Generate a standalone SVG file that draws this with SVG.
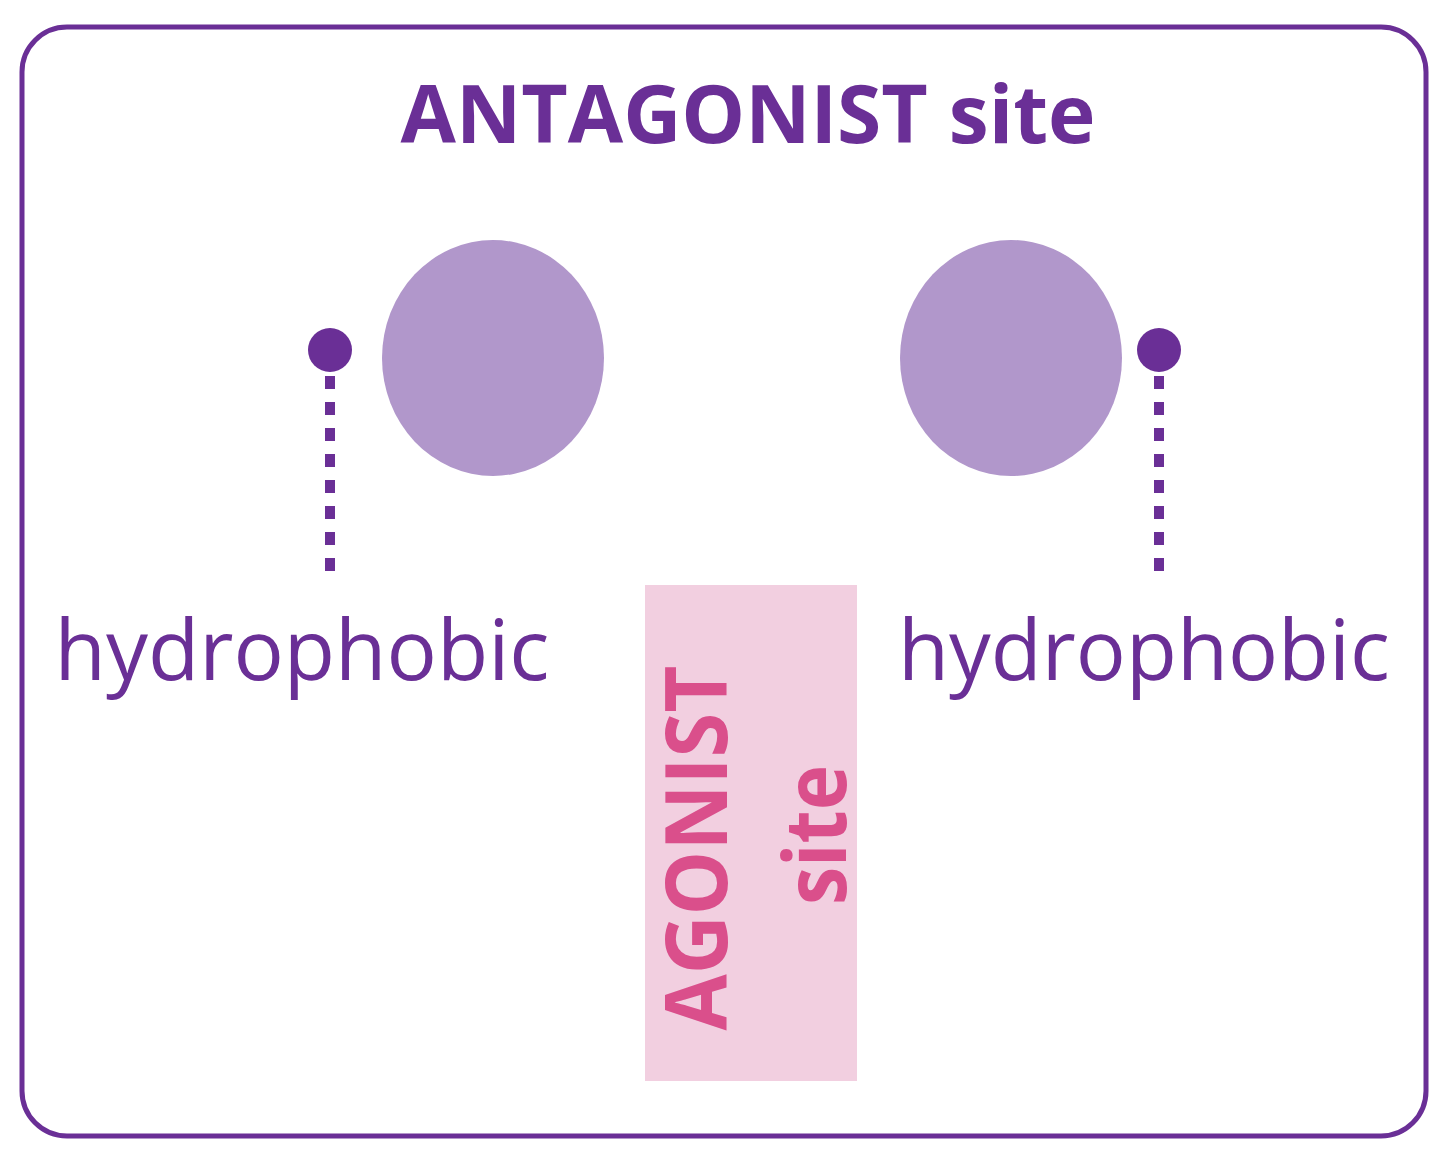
<svg xmlns="http://www.w3.org/2000/svg" width="1440" height="1152" viewBox="0 0 1440 1152">
<style>
.p{fill:#6a2f96;font-family:"Open Sans","Liberation Sans",sans-serif}
.k{fill:#da4f8b;font-family:"Open Sans","Liberation Sans",sans-serif;font-weight:bold;font-size:86px}
.c{fill:#b197cb}
.d{stroke:#6a2f96;stroke-width:10;stroke-dasharray:13 13}
</style>
<rect width="1440" height="1152" fill="#fff"/>
<g id="frame"><rect x="22" y="27" width="1404" height="1109" rx="45" fill="none" stroke="#6a2f96" stroke-width="5"/>
<text class="p" x="748" y="143" text-anchor="middle" font-size="80" font-weight="bold" textLength="695" lengthAdjust="spacingAndGlyphs">ANTAGONIST site</text></g>
<g id="left">
<ellipse class="c" cx="493" cy="358" rx="111" ry="118"/>
<circle cx="330" cy="350" r="22" fill="#6a2f96"/>
<line class="d" x1="330" y1="376" x2="330" y2="572"/>
<text class="p" x="302" y="680" text-anchor="middle" font-size="84" textLength="495" lengthAdjust="spacingAndGlyphs">hydrophobic</text></g>
<g id="right">
<ellipse class="c" cx="1011" cy="358" rx="111" ry="118"/>
<circle cx="1159" cy="350" r="22" fill="#6a2f96"/>
<line class="d" x1="1159" y1="376" x2="1159" y2="572"/>
<text class="p" x="1144" y="680" text-anchor="middle" font-size="84" textLength="492" lengthAdjust="spacingAndGlyphs">hydrophobic</text></g>
<g id="agonist">
<rect x="645" y="585" width="212" height="496" fill="#f2cfe0"/>
<text class="k" transform="translate(727,848) rotate(-90)" text-anchor="middle" textLength="365" lengthAdjust="spacingAndGlyphs">AGONIST</text>
<text class="k" transform="translate(846,835) rotate(-90)" text-anchor="middle" textLength="140" lengthAdjust="spacingAndGlyphs">site</text></g>
</svg>
